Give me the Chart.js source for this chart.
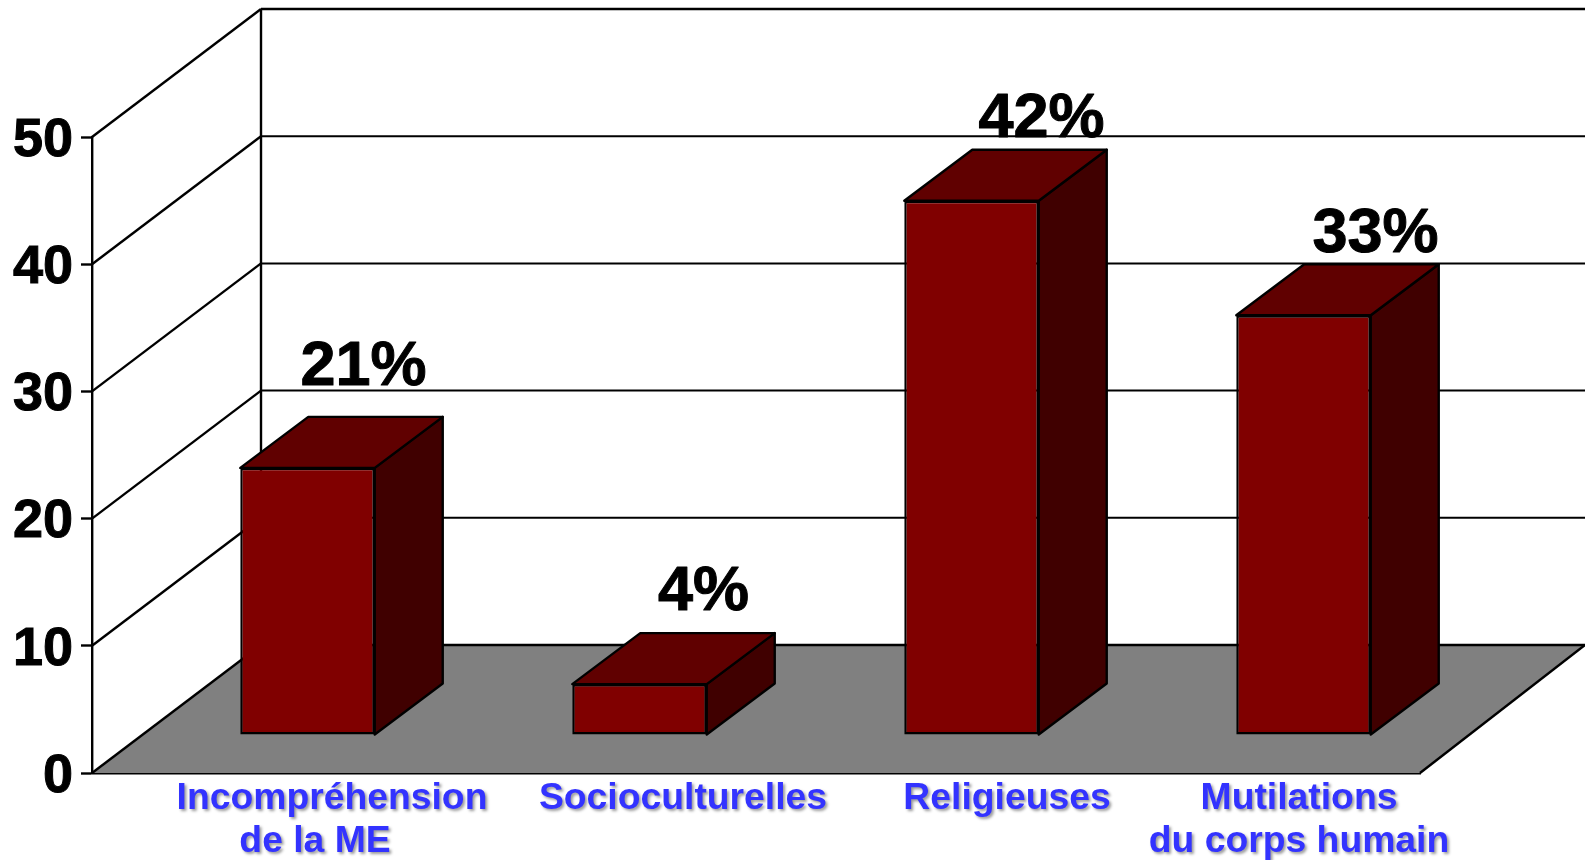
<!DOCTYPE html>
<html>
<head>
<meta charset="utf-8">
<style>
  body { margin: 0; background: #fff; overflow: hidden; }
  canvas { display: block; }
</style>
<script src="https://cdn.jsdelivr.net/npm/chart.js@4"></script>
</head>
<body>
<canvas id="chart" width="1585" height="860"></canvas>
<script>
const categories = [
  ["Incompréhension", "de la ME"],
  ["Socioculturelles"],
  ["Religieuses"],
  ["Mutilations", "du corps humain"],
];
const values = [21, 4, 42, 33];
const valueLabels = ["21%", "4%", "42%", "33%"];
const yTicks = [0, 10, 20, 30, 40, 50];

// the labels were placed by hand in the original, so each one has its own shift
const categoryShiftX = [[74, 57], [93], [85], [45, 45]];
const categoryLinesY = [799, 842];
const valueShift = [[56, -100], [64, -91], [70, -81], [72, -81]];

const wallDepth = { x: 169, y: 128 };
const barOffset = { x: 49.5, y: 38 };
const barDepth = { x: 68, y: 51 };

const fontFamily = "'Liberation Sans', Arial, sans-serif";

function line(ctx, x1, y1, x2, y2, width) {
  ctx.lineWidth = width;
  ctx.beginPath();
  ctx.moveTo(x1, y1);
  ctx.lineTo(x2, y2);
  ctx.stroke();
}

function face(ctx, points, fill) {
  ctx.beginPath();
  points.forEach((p, i) => (i ? ctx.lineTo(p[0], p[1]) : ctx.moveTo(p[0], p[1])));
  ctx.closePath();
  ctx.fillStyle = fill;
  ctx.fill();
  ctx.lineWidth = 2.4;
  ctx.strokeStyle = "#000";
  ctx.lineJoin = "round";
  ctx.stroke();
}

const walls3d = {
  id: "walls3d",
  beforeDatasetsDraw(chart) {
    const { ctx, width } = chart;
    const { x, y } = chart.scales;
    const left = x.left;
    const right = x.right;
    const backX = left + wallDepth.x;
    const floorY = y.getPixelForValue(0);

    ctx.save();
    ctx.strokeStyle = "#000";

    // floor
    ctx.beginPath();
    ctx.moveTo(left, floorY);
    ctx.lineTo(right, floorY);
    ctx.lineTo(width, floorY - wallDepth.y);
    ctx.lineTo(backX, floorY - wallDepth.y);
    ctx.closePath();
    ctx.fillStyle = "#808080";
    ctx.fill();
    line(ctx, right, floorY, width, floorY - wallDepth.y, 2.4);

    // side wall and back wall lines
    yTicks.forEach((t) => {
      const py = y.getPixelForValue(t);
      line(ctx, left, py, backX, py - wallDepth.y, 2.4);
      line(ctx, backX, py - wallDepth.y, width, py - wallDepth.y, t === 0 || t === 50 ? 2.4 : 2);
    });
    line(ctx, backX, y.getPixelForValue(50) - wallDepth.y, backX, floorY - wallDepth.y, 2.4);
    ctx.restore();
  },
  beforeDatasetDraw(chart) {
    chart.ctx.save();
    chart.ctx.translate(barOffset.x, -barOffset.y);
  },
  afterDatasetDraw(chart, args) {
    const ctx = chart.ctx;
    ctx.restore();
    args.meta.data.forEach((bar) => {
      const l = bar.x - bar.width / 2 + barOffset.x;
      const r = bar.x + bar.width / 2 + barOffset.x;
      const t = bar.y - barOffset.y;
      const b = bar.base - barOffset.y;
      const dx = barDepth.x;
      const dy = barDepth.y;
      face(ctx, [[r, t], [r + dx, t - dy], [r + dx, b - dy], [r, b]], "#400000");
      face(ctx, [[l, t], [l + dx, t - dy], [r + dx, t - dy], [r, t]], "#600000");
    });
  },
  afterDatasetsDraw(chart) {
    const { ctx } = chart;
    const { x, y } = chart.scales;
    ctx.save();
    ctx.textAlign = "center";
    ctx.textBaseline = "middle";

    // value labels
    ctx.fillStyle = "#000";
    ctx.strokeStyle = "#000";
    ctx.lineWidth = 1;
    ctx.font = "bold 63px " + fontFamily;
    values.forEach((v, i) => {
      const bx = x.getPixelForValue(i) + barOffset.x + valueShift[i][0];
      const by = y.getPixelForValue(v) - barOffset.y + valueShift[i][1];
      ctx.strokeText(valueLabels[i], bx, by);
      ctx.fillText(valueLabels[i], bx, by);
    });

    // category labels, blue with a soft shadow
    ctx.fillStyle = "#3333ff";
    ctx.font = "bold 37.3px " + fontFamily;
    ctx.shadowColor = "rgba(0,0,0,0.4)";
    ctx.shadowBlur = 3;
    ctx.shadowOffsetX = 2;
    ctx.shadowOffsetY = 2;
    categories.forEach((lines, i) => {
      lines.forEach((text, j) => {
        ctx.fillText(text, x.getPixelForValue(i) + categoryShiftX[i][j], categoryLinesY[j]);
      });
    });
    ctx.restore();
  },
};

new Chart(document.getElementById("chart"), {
  type: "bar",
  data: {
    labels: categories,
    datasets: [
      {
        data: values,
        backgroundColor: "#800000",
        borderColor: "#000",
        borderWidth: 2.4,
        borderSkipped: false,
        categoryPercentage: 1,
        barPercentage: 0.405,
        clip: false,
      },
    ],
  },
  options: {
    responsive: false,
    animation: false,
    events: [],
    layout: { autoPadding: false, padding: { top: 137, right: 165 } },
    plugins: { legend: { display: false }, tooltip: { enabled: false } },
    scales: {
      x: {
        afterFit(scale) {
          scale.height = 87;
        },
        grid: { display: false },
        border: { color: "#000", width: 2.4 },
        ticks: { display: false },
      },
      y: {
        min: 0,
        max: 50,
        afterFit(scale) {
          scale.width = 92;
        },
        afterBuildTicks(scale) {
          scale.ticks = yTicks.map((value) => ({ value }));
        },
        grid: { drawOnChartArea: false, tickLength: 11, tickColor: "#000", tickWidth: 2.4 },
        border: { color: "#000", width: 2.4 },
        ticks: {
          padding: 8,
          labelOffset: 4,
          color: "#000",
          textStrokeColor: "#000",
          textStrokeWidth: 1,
          font: { family: fontFamily, size: 54, weight: "bold" },
        },
      },
    },
  },
  plugins: [walls3d],
});
</script>
</body>
</html>
